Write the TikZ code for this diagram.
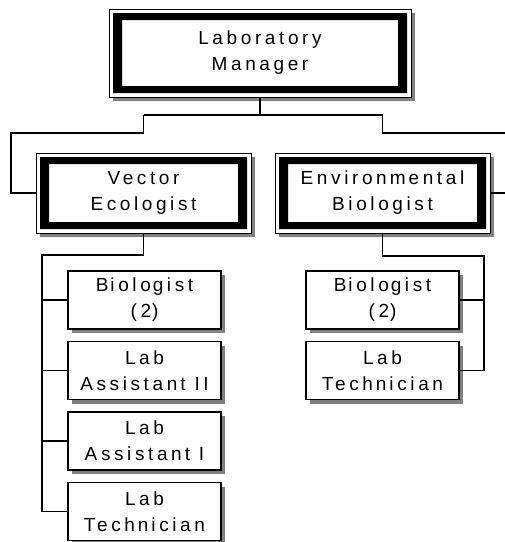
\documentclass[tikz,border=0pt]{standalone}
\usepackage{fontspec}
\setmainfont{Liberation Sans}[LetterSpace=19]
\usetikzlibrary{shadows,calc}
\begin{document}
\begin{tikzpicture}[x=1pt,y=-1pt,
  txt/.style={font=\fontsize{19}{26}\selectfont, align=center, inner sep=0pt, text=black},
  shad/.style={drop shadow={shadow xshift=4pt, shadow yshift=-4pt, fill=black!50, opacity=1}},
  smallbox/.style={txt, shad, draw=black, line width=1.3pt, fill=white,
    minimum width=153pt, minimum height=58pt},
  bigbox/.style={txt, shad, draw=black, line width=1pt, fill=white,
    path picture={\fill[black, even odd rule]
      ([shift={(4pt,4pt)}]path picture bounding box.south west) rectangle
      ([shift={(-4pt,-4pt)}]path picture bounding box.north east)
      ([shift={(13pt,11pt)}]path picture bounding box.south west) rectangle
      ([shift={(-13pt,-11pt)}]path picture bounding box.north east);}},
  conn/.style={draw=black, line width=1.2pt}
]
\path[use as bounding box, fill=white] (0,0) rectangle (505,542);

% top
\node[bigbox, minimum width=302pt, minimum height=88pt] (top) at (260,53)
  {Laboratory\\Manager};

% second level
\node[bigbox, minimum width=215pt, minimum height=80pt] (ve) at (143.5,193)
  {Vector\\Ecologist};
\node[bigbox, minimum width=215pt, minimum height=80pt] (eb) at (382.5,193)
  {Environ\kern3pt m\kern3pt ental\\Biologist};

% left children
\node[smallbox] (l1) at (144.5,300) {B\kern2pt iolo\kern2pt gist\\(2\kern1pt)};
\node[smallbox] (l2) at (144.5,370.5) {Lab\\Assistan\kern3pt t II};
\node[smallbox] (l3) at (144.5,441) {Lab\\Assistan\kern3pt t I};
\node[smallbox] (l4) at (144.5,511.5) {Lab\\Tech\kern3pt n\kern3pt ician};

% right children
\node[smallbox] (r1) at (382.5,300) {B\kern2pt iolo\kern2pt gist\\(2\kern1pt)};
\node[smallbox] (r2) at (382.5,370.5) {Lab\\Tech\kern3pt n\kern3pt ician};

% helper coordinates
\coordinate (bus) at (0,115);
\coordinate (bus2) at (0,133);
\coordinate (lx) at (11,0);
\coordinate (rx) at (514,0);
\coordinate (lb) at (42,255);
\coordinate (rb) at (484,256);

% top connectors
\draw[conn] (top.south) -- (top.south |- bus);
\draw[conn] (ve.north |- bus) -- (eb.north |- bus);
\draw[conn] (ve.north |- bus) -- (ve.north |- bus2) -- (lx |- bus2)
  -- (lx |- ve.west) -- (ve.west);
\draw[conn] (eb.north |- bus) -- (eb.north |- bus2) -- (rx |- bus2)
  -- (rx |- eb.east) -- (eb.east);

% left subtree
\draw[conn] (ve.south) -- (ve.south |- lb) -- (lb) -- (lb |- l4.west);
\foreach \n in {l1,l2,l3,l4} \draw[conn] (lb |- \n.west) -- (\n.west);

% right subtree
\draw[conn] (eb.south) -- (eb.south |- rb) -- (rb) -- (rb |- r2.east);
\foreach \n in {r1,r2} \draw[conn] (rb |- \n.east) -- (\n.east);
\end{tikzpicture}
\end{document}
